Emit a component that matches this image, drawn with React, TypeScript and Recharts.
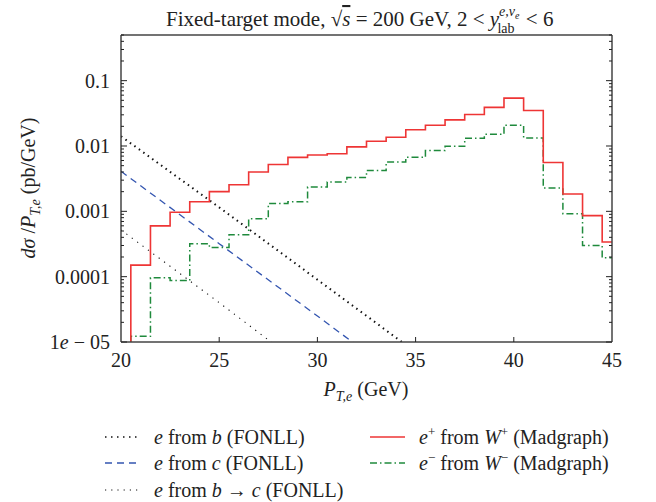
import React from 'react'
import { LineChart, Line, XAxis, YAxis } from 'recharts'

// histogram bins (GeV), 1 GeV wide, values in pb/GeV
const ptBins = [21, 22, 23, 24, 25, 26, 27, 28, 29, 30, 31, 32, 33, 34, 35, 36, 37, 38, 39, 40, 41, 42, 43, 44, 45]
const ePlusFromWPlus = [1.5e-4, 6.0e-4, 9.7e-4, 1.4e-3, 2.0e-3, 2.55e-3, 4.0e-3, 5.2e-3, 6.7e-3, 7.3e-3, 7.6e-3, 9.7e-3, 0.0118, 0.0136, 0.0177, 0.0208, 0.0251, 0.0304, 0.039, 0.054, 0.035, 0.0056, 0.00184, 0.00086, 0.00034]
const eMinusFromWMinus = [1.22e-5, 9.6e-5, 8.7e-5, 3.2e-4, 2.8e-4, 4.4e-4, 7.7e-4, 1.32e-3, 1.4e-3, 2.35e-3, 2.8e-3, 3.3e-3, 4.2e-3, 5.7e-3, 6.7e-3, 8.5e-3, 9.9e-3, 0.0131, 0.0151, 0.0208, 0.0133, 2.27e-3, 9.2e-4, 3.0e-4, 1.95e-4]

// FONLL curves read at a few pT values
const fonllPt = [20, 25, 30, 35]
const eFromB = [0.0141, 1.15e-3, 9e-5, 7e-6]
const eFromC = [4.1e-3, 3.2e-4, 2.5e-5, 1.9e-6]
const eFromBtoC = [5.2e-4, 4e-5, 2.9e-6, 2.2e-7]

const xTicks = [20, 25, 30, 35, 40, 45]
const xTopTicks = [25, 30, 35, 40]
const yMajor = [1e-5, 1e-4, 1e-3, 0.01, 0.1]
const yLabels = ['1e − 05', '0.0001', '0.001', '0.01', '0.1']

const W = 656
const H = 420
// each axis gets 1px of room, so the plot area is 121..612 x 35..342
const M = { top: 34, right: 43, bottom: 77, left: 120 }
const LEFT = 121
const RIGHT = 612
const TOP = 35
const BOTTOM = 342
const Y_MIN = 1e-5
const Y_MAX = 0.5
const FONT = '"Liberation Serif", "Times New Roman", serif'
const INK = '#222'
const FRAME = { stroke: '#444', strokeWidth: 1.5 }

const RED = '#ee3535'
const GREEN = '#1f8a3c'
const BLUE = '#3355b0'

const yTicks = yMajor.flatMap(m => [1, 2, 3, 4, 5, 6, 7, 8, 9].map(k => m * k)).filter(v => v <= Y_MAX * 1.0001)

const isMajor = (v: number) => Math.abs(Math.log10(v) - Math.round(Math.log10(v))) < 1e-6

function steps(vals: number[]) {
  const pts = [{ x: ptBins[0] - 0.5, y: Y_MIN }]
  ptBins.forEach((c, i) => pts.push({ x: c - 0.5, y: vals[i] }))
  pts.push({ x: ptBins[ptBins.length - 1] + 0.5, y: vals[vals.length - 1] })
  return pts
}

const curve = (vals: number[]) => fonllPt.map((x, i) => ({ x, y: vals[i] }))

// "1e − 05": the e is set in italics like the reference
function tickLabel(s: string) {
  const i = s.indexOf('e')
  if (i < 0) return s
  return <>{s.slice(0, i)}<tspan fontStyle="italic">e</tspan>{s.slice(i + 1)}</>
}

function LeftTick(props: any) {
  const { y, payload } = props
  const major = isMajor(payload.value)
  const idx = yMajor.findIndex(m => Math.abs(m - payload.value) / m < 1e-6)
  return (
    <g>
      <line x1={LEFT} x2={LEFT + (major ? 6 : 3)} y1={y} y2={y} stroke={INK} strokeWidth={1} />
      {major && idx >= 0 && (
        <text x={LEFT - 11} y={y + 7} textAnchor="end" fontFamily={FONT} fontSize={20} fill={INK}>
          {tickLabel(yLabels[idx])}
        </text>
      )}
    </g>
  )
}

function RightTick(props: any) {
  const { y, payload } = props
  const major = isMajor(payload.value)
  return <line x1={RIGHT} x2={RIGHT - (major ? 6 : 3)} y1={y} y2={y} stroke={INK} strokeWidth={1} />
}

function BottomTick(props: any) {
  const { x, payload } = props
  const edge = payload.value === 20 || payload.value === 45
  return (
    <g>
      {!edge && <line x1={x} x2={x} y1={BOTTOM} y2={BOTTOM - 5} stroke={INK} strokeWidth={1} />}
      <text x={x} y={367} textAnchor="middle" fontFamily={FONT} fontSize={20} fill={INK}>
        {payload.value}
      </text>
    </g>
  )
}

function TopTick(props: any) {
  const { x } = props
  return <line x1={x} x2={x} y1={TOP} y2={TOP + 5} stroke={INK} strokeWidth={1} />
}

const legendRows = [
  { x: 105, y: 437, color: '#111', width: 1.5, dash: '1.5 4.5', label: <><tspan fontStyle="italic">e</tspan> from <tspan fontStyle="italic">b</tspan> (FONLL)</> },
  { x: 105, y: 463, color: BLUE, width: 1.3, dash: '7 5', label: <><tspan fontStyle="italic">e</tspan> from <tspan fontStyle="italic">c</tspan> (FONLL)</> },
  { x: 105, y: 490, color: '#111', width: 1.2, dash: '1.2 5', label: <><tspan fontStyle="italic">e</tspan> from <tspan fontStyle="italic">b</tspan> → <tspan fontStyle="italic">c</tspan> (FONLL)</> },
  { x: 370, y: 437, color: RED, width: 1.6, dash: undefined, label: <><tspan fontStyle="italic">e</tspan><tspan fontSize={13} dy={-8}>+</tspan><tspan dy={8}> from </tspan><tspan fontStyle="italic">W</tspan><tspan fontSize={13} dy={-8}>+</tspan><tspan dy={8}> (Madgraph)</tspan></> },
  { x: 370, y: 463, color: GREEN, width: 1.5, dash: '7 3 1.5 3', label: <><tspan fontStyle="italic">e</tspan><tspan fontSize={13} dy={-8}>−</tspan><tspan dy={8}> from </tspan><tspan fontStyle="italic">W</tspan><tspan fontSize={13} dy={-8}>−</tspan><tspan dy={8}> (Madgraph)</tspan></> }
]

export default function App() {
  return (
    <div style={{ position: 'absolute', left: 0, top: 0, width: 656, height: 502, background: '#fff' }}>
      <LineChart width={W} height={H} margin={M}>
        <XAxis dataKey="x" type="number" domain={[20, 45]} allowDataOverflow ticks={xTicks} interval={0}
          height={1} tickSize={0} tickLine={false} axisLine={FRAME} tick={(p: any) => <BottomTick {...p} />} />
        <XAxis xAxisId="t" orientation="top" type="number" domain={[20, 45]} allowDataOverflow ticks={xTopTicks} interval={0}
          height={1} tickSize={0} tickLine={false} axisLine={FRAME} tick={(p: any) => <TopTick {...p} />} />
        <YAxis scale="log" type="number" domain={[Y_MIN, Y_MAX]} allowDataOverflow ticks={yTicks} interval={0}
          width={1} tickSize={0} tickLine={false} axisLine={FRAME} tick={(p: any) => <LeftTick {...p} />} />
        <YAxis yAxisId="r" orientation="right" scale="log" type="number" domain={[Y_MIN, Y_MAX]} allowDataOverflow ticks={yTicks} interval={0}
          width={1} tickSize={0} tickLine={false} axisLine={FRAME} tick={(p: any) => <RightTick {...p} />} />
        <Line data={curve(eFromB)} dataKey="y" type="linear" stroke="#111" strokeWidth={2} strokeDasharray="1.5 4" dot={false} isAnimationActive={false} />
        <Line data={curve(eFromC)} dataKey="y" type="linear" stroke={BLUE} strokeWidth={1.3} strokeDasharray="7 5" dot={false} isAnimationActive={false} />
        <Line data={curve(eFromBtoC)} dataKey="y" type="linear" stroke="#111" strokeWidth={1.1} strokeDasharray="1.2 5.5" dot={false} isAnimationActive={false} />
        <Line data={steps(eMinusFromWMinus)} dataKey="y" type="stepAfter" stroke={GREEN} strokeWidth={1.5} strokeDasharray="7 3 1.5 3" dot={false} isAnimationActive={false} />
        <Line data={steps(ePlusFromWPlus)} dataKey="y" type="stepAfter" stroke={RED} strokeWidth={1.6} dot={false} isAnimationActive={false} />
      </LineChart>
      <svg width={656} height={502} style={{ position: 'absolute', left: 0, top: 0, pointerEvents: 'none' }}
        fontFamily={FONT} fontSize={20} fill={INK}>
        <text x={166} y={26} fontSize={21}>
          Fixed-target mode, √<tspan fontStyle="italic" textDecoration="overline">s</tspan> = 200 GeV, 2 &lt; <tspan fontStyle="italic">y</tspan>
          <tspan fontSize={14} dy={-10} fontStyle="italic">e,ν</tspan><tspan fontSize={10} dy={3} fontStyle="italic">e</tspan>
          <tspan fontSize={14} dx={-22} dy={14}>lab</tspan>
          <tspan dx={6} dy={-7}> &lt; 6</tspan>
        </text>
        <text transform="translate(35,188) rotate(-90)" textAnchor="middle">
          <tspan fontStyle="italic">dσ</tspan> /<tspan fontStyle="italic">P</tspan><tspan fontSize={14} dy={5} fontStyle="italic">T,e</tspan><tspan dy={-5}> (pb/GeV)</tspan>
        </text>
        <text x={366} y={396} textAnchor="middle">
          <tspan fontStyle="italic">P</tspan><tspan fontSize={14} dy={5} fontStyle="italic">T,e</tspan><tspan dy={-5}> (GeV)</tspan>
        </text>
        {legendRows.map((r, i) => (
          <g key={i}>
            <line x1={r.x} x2={r.x + 35} y1={r.y} y2={r.y} stroke={r.color} strokeWidth={r.width} strokeDasharray={r.dash} />
            <text x={r.x + 49} y={r.y + 7}>{r.label}</text>
          </g>
        ))}
      </svg>
    </div>
  )
}
